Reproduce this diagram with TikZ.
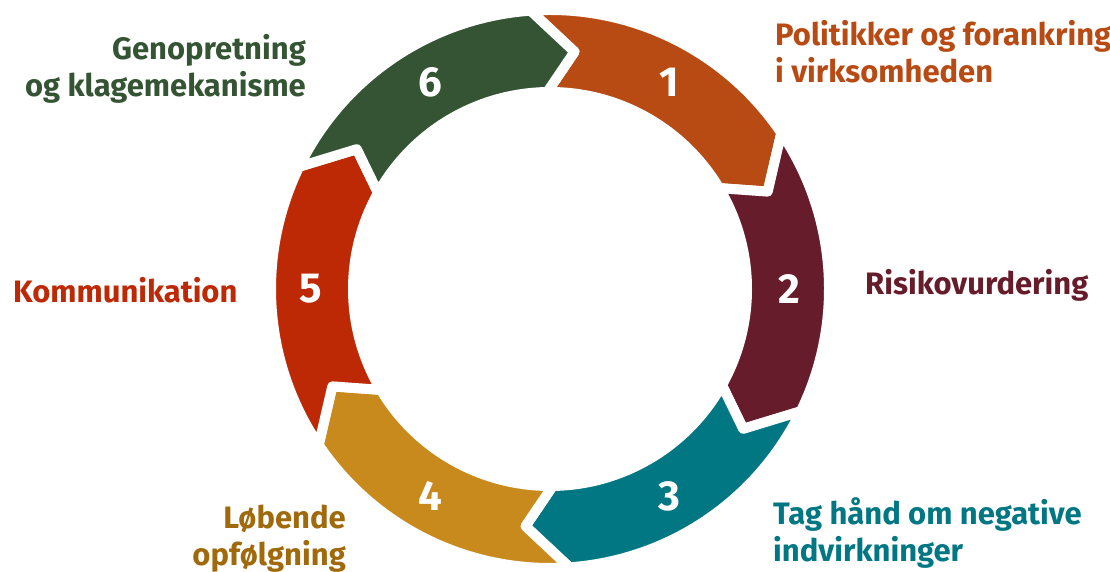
\documentclass[tikz,border=0pt]{standalone}
\usepackage{fontspec}
\setmainfont{Fira Sans}
\usetikzlibrary{calc}
\definecolor{cA}{HTML}{B84A13}
\definecolor{cB}{HTML}{661C2A}
\definecolor{cC}{HTML}{007782}
\definecolor{cD}{HTML}{C98A1D}
\definecolor{cE}{HTML}{BE2905}
\definecolor{cF}{HTML}{345434}
\definecolor{cDt}{HTML}{A06A0C}
\begin{document}
\begin{tikzpicture}[x=1pt,y=1pt]
\tikzset{
  seg/.style={draw=white, line width=10pt, line join=round},
  num/.style={text=white, inner sep=0, font=\fontsize{42}{42}\selectfont\bfseries},
  lab/.style={inner sep=0, font=\fontsize{31}{37}\selectfont\bfseries}
}
\useasboundingbox (0,0) rectangle (1110,572);
\coordinate (C) at (550,283);
\foreach \T/\col/\n in {94/cA/1, 34/cB/2, -26/cC/3, -86/cD/4, -146/cE/5, -206/cF/6}{
  \pgfmathsetmacro\H{\T-60}
  \path[seg, fill=\col, shift={(C)}]
    (\T:279pt) arc[start angle=\T, end angle=\H, radius=279pt]
    -- (\H-9.9:238.5pt) -- (\H-3.2:197pt)
    arc[start angle=\H-3.2, end angle=\T-3.2, radius=197pt]
    -- (\T-9.9:238.5pt) -- cycle;
  \node[num] (n\n) at ($(C)+(\T-34:239pt)$) {\n};
}
\node[lab, text=cA, anchor=base west, align=left] (l1) at (775,489) {Politikker og forankring\\i virksomheden};
\node[lab, text=cB, anchor=base west] (l2) at (865,277) {Risikovurdering};
\node[lab, text=cC, anchor=base west, align=left] (l3) at (773,10) {Tag hånd om negative\\indvirkninger};
\node[lab, text=cDt, anchor=base east, align=right] (l4) at (346,6) {Løbende\\opfølgning};
\node[lab, text=cE, anchor=base west] (l5) at (13,269) {Kommunikation};
\node[lab, text=cF, anchor=base east, align=right] (l6) at (306,475) {Genopretning\\og klagemekanisme};
\end{tikzpicture}
\end{document}
